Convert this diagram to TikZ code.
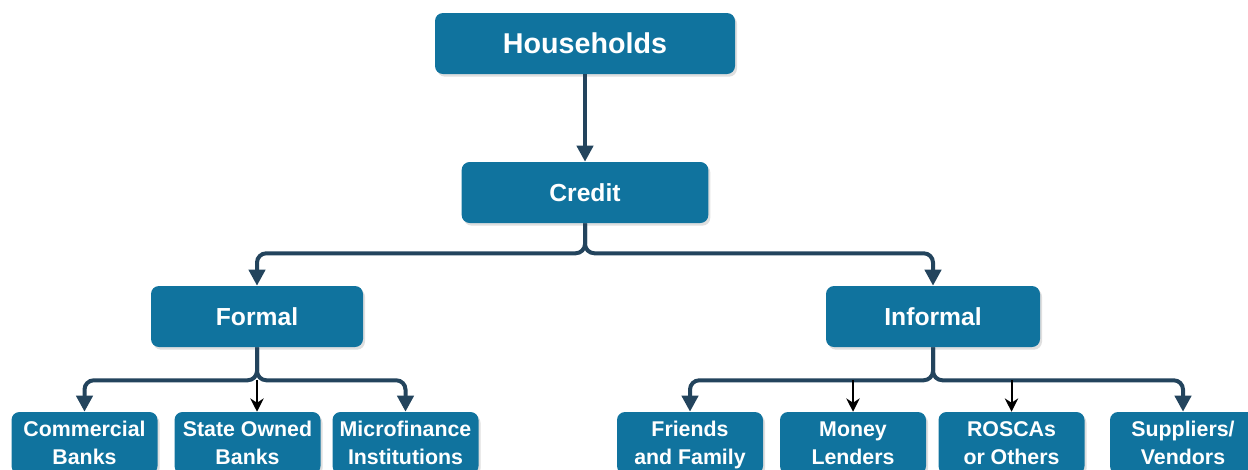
\documentclass[tikz,border=0pt]{standalone}
\usepackage{fontspec}
\setmainfont{Liberation Sans}
\usetikzlibrary{arrows.meta, shadows}
\definecolor{cbox}{HTML}{10739E}
\definecolor{cline}{HTML}{23445D}
\tikzset{
  box/.style={fill=cbox, text=white, rounded corners=6pt, align=center, inner sep=0pt,
    minimum height=45.75pt, font=\bfseries\fontsize{18.5}{21}\selectfont,
    drop shadow={shadow xshift=1.5pt, shadow yshift=-2pt, opacity=0.25}},
  leaf/.style={box, minimum width=109.5pt, minimum height=46.5pt, text depth=0pt,
    font=\bfseries\fontsize{16}{21}\selectfont},
  arrow/.style={-{Triangle[length=12pt, width=12pt]}, draw=cline, line width=3pt, rounded corners=7pt},
  blackarrow/.style={-{Stealth[length=10pt, width=10pt]}, draw=black, line width=1.5pt},
}
\begin{document}
\begin{tikzpicture}[x=0.75pt, y=-0.75pt]
  \useasboundingbox (0,0) rectangle (1248,469);
  \clip (0,0) rectangle (1248,469);
  \node[box, minimum width=225pt, font=\bfseries\fontsize{21.5}{24}\selectfont] (households) at (585,43.5) {Households};
  \node[box, minimum width=185pt] (credit) at (585,192.5) {Credit};
  \node[box, minimum width=159pt] (formal) at (257,316.5) {Formal};
  \node[box, minimum width=160.5pt] (informal) at (933,316.5) {Informal};
  \node[leaf] (commercial) at (84.5,443) {Commercial\\Banks};
  \node[leaf] (state) at (247.5,443) {State Owned\\Banks};
  \node[leaf] (micro) at (405.5,443) {Microfinance\\Institutions};
  \node[leaf] (friends) at (690,443) {Friends\\and Family};
  \node[leaf] (money) at (853,443) {Money\\Lenders};
  \node[leaf] (roscas) at (1011.5,443) {ROSCAs\\or Others};
  \node[leaf] (suppliers) at (1183,443) {Suppliers/\\Vendors};
  \coordinate (fsplit) at ([yshift=-24.75pt]formal.south);
  \coordinate (isplit) at ([yshift=-24.75pt]informal.south);
  \draw[arrow] (households) -- (credit);
  \draw[arrow] (credit.south) -- ++(0,30) -| (formal.north);
  \draw[arrow] (credit.south) -- ++(0,30) -| (informal.north);
  \draw[arrow] (formal.south) -- (fsplit) -| (commercial.north);
  \draw[arrow] (formal.south) -- (fsplit) -| (micro.north);
  \draw[arrow] (informal.south) -- (isplit) -| (friends.north);
  \draw[arrow] (informal.south) -- (isplit) -| (suppliers.north);
  \draw[blackarrow] (fsplit) -- (fsplit |- state.north);
  \draw[blackarrow] (isplit -| money.north) -- (money.north);
  \draw[blackarrow] (isplit -| roscas.north) -- (roscas.north);
\end{tikzpicture}
\end{document}
